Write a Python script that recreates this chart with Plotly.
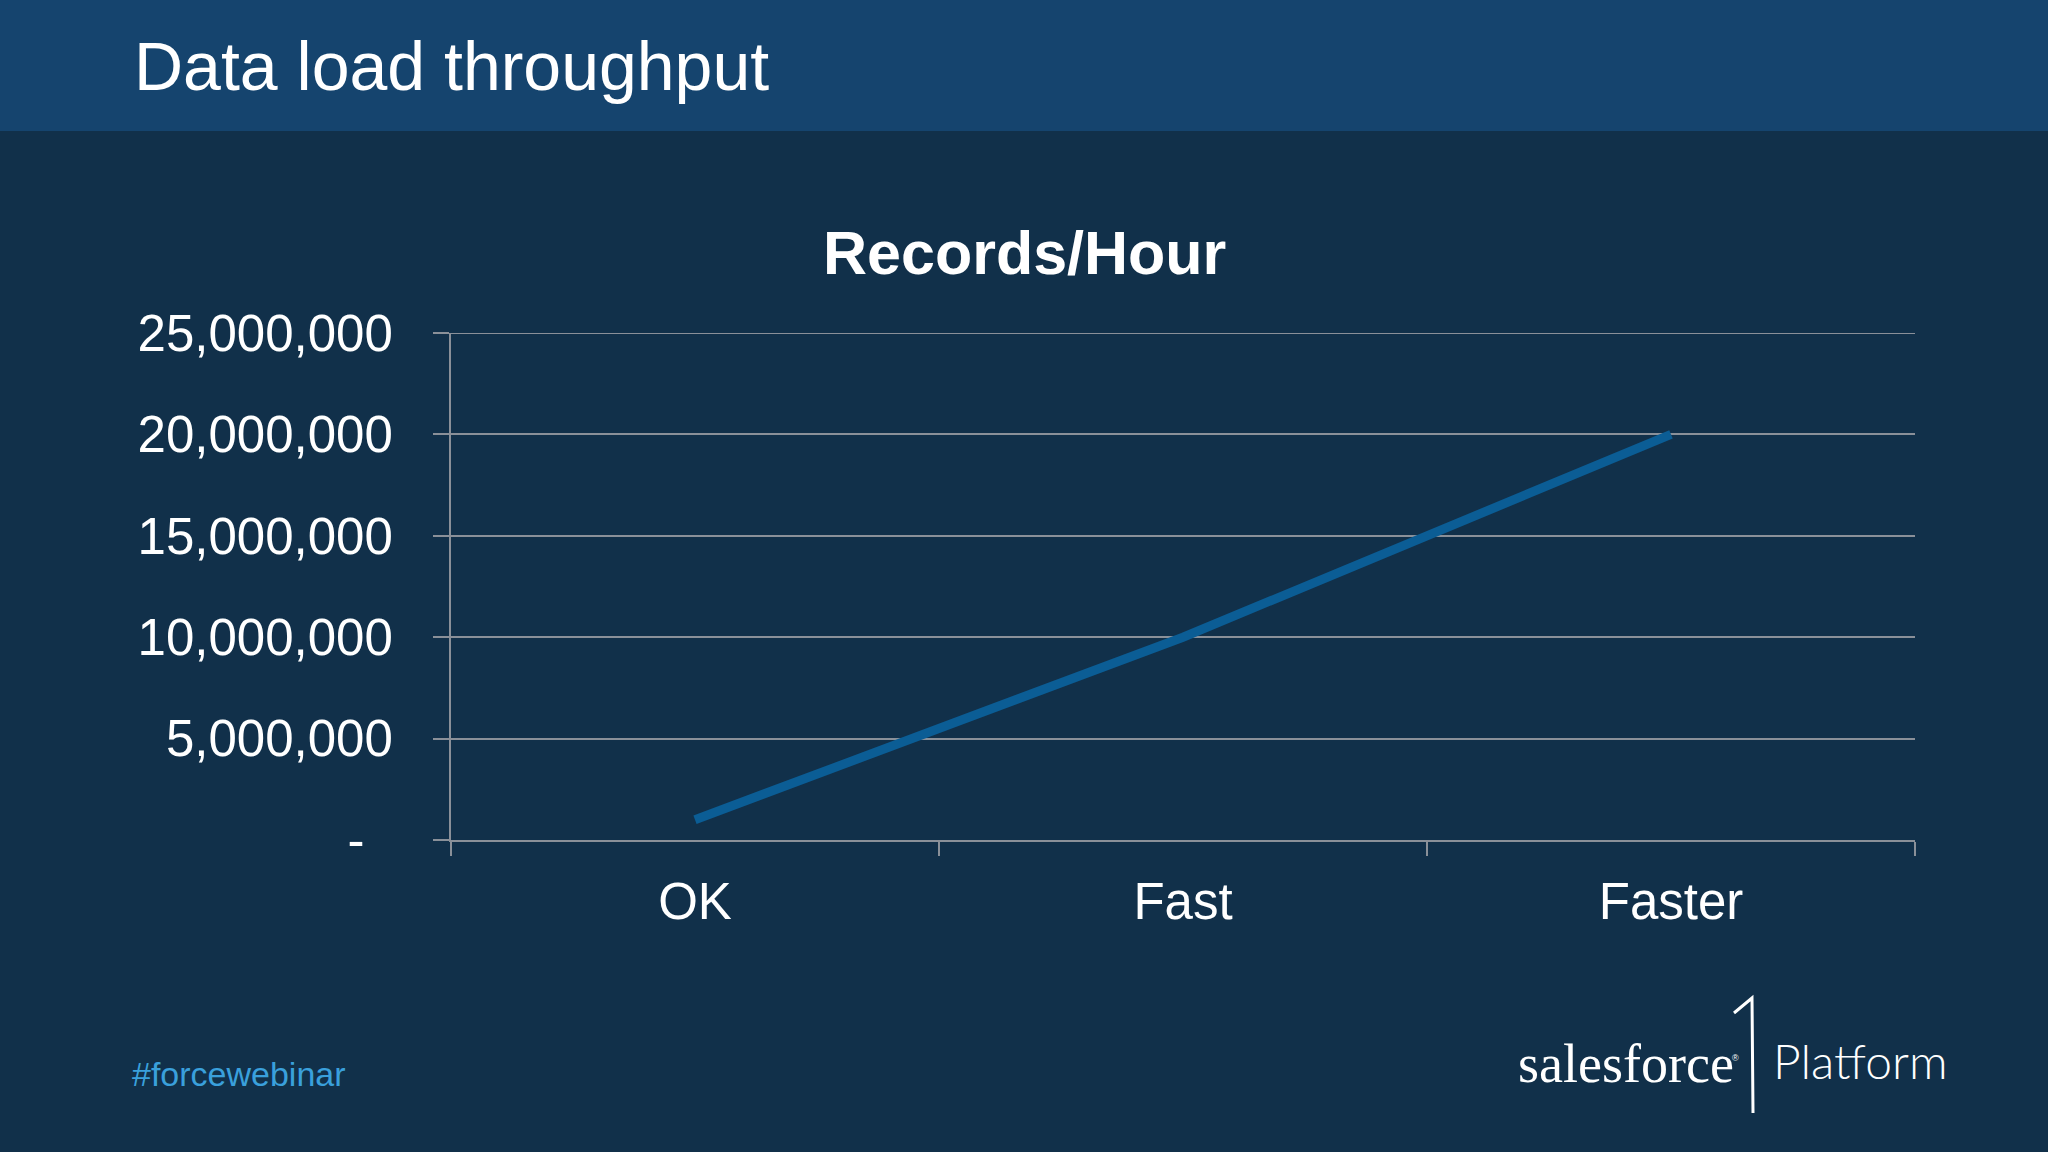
import plotly.graph_objects as go

categories = ["OK", "Fast", "Faster"]
records_per_hour = [1_000_000, 10_000_000, 20_000_000]
y_tick_values = [0, 5_000_000, 10_000_000, 15_000_000, 20_000_000, 25_000_000]
y_tick_labels = ["-\u00a0\u00a0", "5,000,000", "10,000,000", "15,000,000", "20,000,000", "25,000,000"]

W, H = 2048, 1152
BG = "#11304a"
BAR = "#15446e"
GRID = "#8a9099"
FONT = "Liberation Sans, Arial, sans-serif"

fig = go.Figure()
fig.add_trace(go.Scatter(
    x=categories, y=records_per_hour, mode="lines",
    line=dict(color="#0b5d95", width=9),
    hoverinfo="skip", showlegend=False,
))

fig.update_layout(
    width=W, height=H, autosize=False,
    margin=dict(l=0, r=0, t=0, b=0, pad=0, autoexpand=False),
    paper_bgcolor=BG, plot_bgcolor=BG,
    xaxis=dict(
        domain=[451 / W, 1915 / W], automargin=False,
        type="category", range=[-0.5, 2.5],
        tickson="boundaries", ticks="outside", ticklen=14, tickwidth=2, tickcolor=GRID,
        showgrid=False, showline=True, linecolor=GRID, linewidth=2,
        tickfont=dict(family=FONT, size=51, color="white"),
        ticklabelstandoff=16, zeroline=False,
    ),
    yaxis=dict(
        domain=[1 - 840 / H, 1 - 333 / H], automargin=False,
        range=[0, 25_000_000],
        tickvals=y_tick_values, ticktext=y_tick_labels,
        ticks="outside", ticklen=16, tickwidth=2, tickcolor=GRID,
        showgrid=True, gridcolor=GRID, gridwidth=2,
        showline=True, linecolor=GRID, linewidth=2,
        zeroline=False,
        tickfont=dict(family=FONT, size=51, color="white"),
        ticklabelstandoff=30,
    ),
    shapes=[
        dict(type="rect", xref="paper", yref="paper", x0=0, x1=1, y0=1 - 131 / H, y1=1,
             fillcolor=BAR, line=dict(width=0), layer="below"),
        # top gridline (hidden by plotly at the range edge)
        dict(type="line", xref="x domain", yref="y", x0=0, x1=1,
             y0=y_tick_values[-1], y1=y_tick_values[-1],
             line=dict(color=GRID, width=2), layer="below"),
        dict(type="path", xref="paper", yref="paper",
             path=f"M {1734/W},{1-1013/H} L {1752/W},{1-998/H} L {1753/W},{1-1113/H}",
             line=dict(color="white", width=3)),
    ],
    annotations=[
        dict(text="Data load throughput", xref="paper", yref="paper",
             x=132 / W, y=1 - 66 / H, xanchor="left", yanchor="middle", showarrow=False,
             font=dict(family=FONT, size=68, color="white")),
        dict(text="<b>Records/Hour</b>", xref="paper", yref="paper",
             x=0.5, y=1 - 253 / H, xanchor="center", yanchor="middle", showarrow=False,
             font=dict(family=FONT, size=61, color="white")),
        dict(text="#forcewebinar", xref="paper", yref="paper",
             x=130 / W, y=1 - 1074 / H, xanchor="left", yanchor="middle", showarrow=False,
             font=dict(family=FONT, size=34, color="#3aa0dc")),
        dict(text="salesforce", xref="paper", yref="paper",
             x=1516 / W, y=1 - 1064 / H, xanchor="left", yanchor="middle", showarrow=False,
             font=dict(family="Liberation Serif, serif", size=54, color="white")),
        dict(text="®", xref="paper", yref="paper",
             x=1730 / W, y=1 - 1058 / H, xanchor="left", yanchor="middle", showarrow=False,
             font=dict(family=FONT, size=9, color="white")),
        dict(text="Platform", xref="paper", yref="paper",
             x=1771 / W, y=1 - 1060 / H, xanchor="left", yanchor="middle", showarrow=False,
             font=dict(family="Lato, sans-serif", size=48, color="white", weight=300)),
    ],
)

fig.write_html(
    "out.html",
    config={"displayModeBar": False},
    post_script="document.documentElement.style.margin='0';document.body.style.margin='0';document.body.style.padding='0';document.body.style.overflow='hidden';",
)
